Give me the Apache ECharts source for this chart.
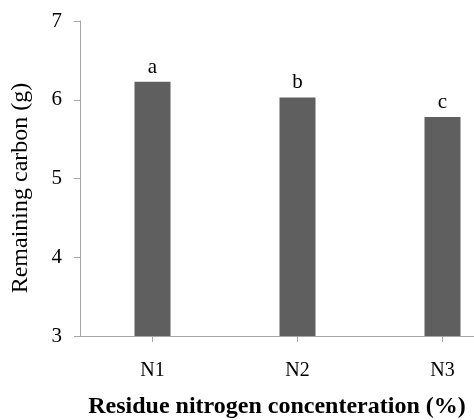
<!DOCTYPE html>
<html><head><meta charset="utf-8">
<script src="https://cdn.jsdelivr.net/npm/echarts@6/dist/echarts.min.js"></script>
<style>html,body{margin:0;padding:0;overflow:hidden;background:#fff;width:474px;height:420px}#c{width:520px;height:420px}</style>
</head><body><div id="c"></div>
<script>
const categories = ['N1', 'N2', 'N3'];
const values = [6.23, 6.03, 5.78];
const letters = ['a', 'b', 'c'];
const yTicks = [3, 4, 5, 6, 7];
const xTitle = 'Residue nitrogen concenteration (%)';
const yTitle = 'Remaining carbon (g)';
const serif = '"Liberation Serif", "Times New Roman", serif';
const chart = echarts.init(document.getElementById('c'));
chart.setOption({
  animation: false,
  grid: {left: 80, right: 5, top: 21, bottom: 84},
  xAxis: {
    type: 'category', data: categories, boundaryGap: true,
    axisLine: {lineStyle: {color: '#a6a6a6', width: 1}},
    axisTick: {show: true, alignWithLabel: true, length: 6, lineStyle: {color: '#a6a6a6'}},
    axisLabel: {color: '#000', fontFamily: serif, fontSize: 20, margin: 25}
  },
  yAxis: {
    type: 'value', min: yTicks[0], max: yTicks[yTicks.length - 1], interval: 1,
    splitLine: {show: false},
    axisLine: {show: true, lineStyle: {color: '#a6a6a6', width: 1}},
    axisTick: {show: true, length: 6, lineStyle: {color: '#a6a6a6'}},
    axisLabel: {color: '#000', fontFamily: serif, fontSize: 21, margin: 18}
  },
  graphic: [
    {type: 'text', x: 277, y: 407, style: {text: xTitle, font: 'bold 24px ' + serif, fill: '#000', align: 'center', verticalAlign: 'middle'}},
    {type: 'text', x: 21, y: 188, rotation: Math.PI / 2, style: {text: yTitle, font: '24px ' + serif, fill: '#000', align: 'center', verticalAlign: 'middle'}}
  ],
  series: [{
    type: 'bar', data: values, barWidth: 36,
    itemStyle: {color: '#5f5f5f'},
    label: {show: true, position: 'top', distance: 4, color: '#000', fontFamily: serif, fontSize: 21,
      formatter: p => letters[p.dataIndex]}
  }]
});
</script></body></html>
